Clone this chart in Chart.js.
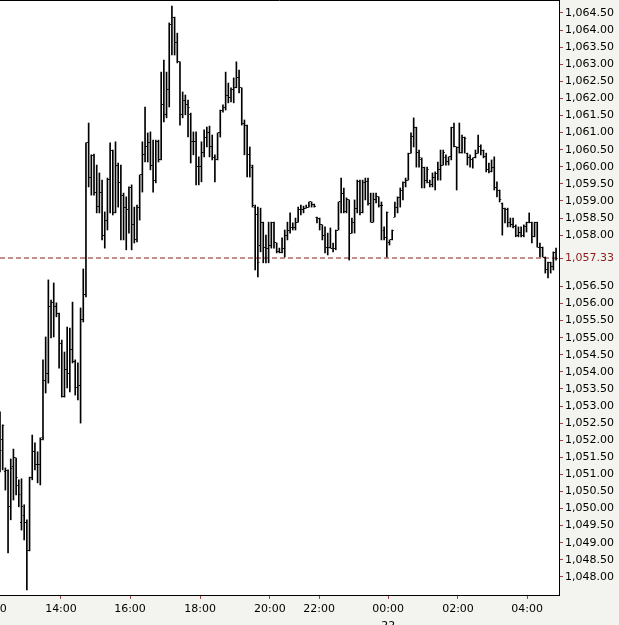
<!DOCTYPE html>
<html>
<head>
<meta charset="utf-8">
<script src="https://cdn.jsdelivr.net/npm/chart.js@4.4.1/dist/chart.umd.min.js"></script>
<style>
  html,body{margin:0;padding:0;background:#f3f3ef;overflow:hidden}
  #wrap{width:619px;height:625px;position:relative}
</style>
</head>
<body>
<div id="wrap"><canvas id="chart"></canvas></div>
<script>
/* =========================
   Dados (barras OHLC, em ordem)
   ========================= */
const opens = [
  1052.30,1052.01,1051.07,1051.10,1050.05,1051.22,1051.48,1050.66,1049.58,1049.81,
  1049.58,1048.76,1050.90,1051.66,1051.28,1051.28,1052.07,1053.76,1053.94,1055.90,
  1056.02,1055.90,1055.72,1054.84,1053.29,1054.08,1053.94,1054.64,1054.29,1053.53,
  1053.59,1055.52,1056.25,1060.70,1059.70,1060.32,1059.26,1058.85,1059.26,1057.98,
  1058.44,1059.64,1060.49,1058.65,1060.05,1059.53,1059.17,1058.82,1058.74,1059.38,
  1058.30,1057.86,1058.82,1059.76,1060.35,1060.58,1060.70,1060.05,1059.61,1060.73,
  1060.20,1061.81,1061.52,1062.25,1064.15,1064.38,1063.65,1063.07,1061.52,1061.95,
  1061.81,1061.52,1060.73,1060.73,1060.02,1060.02,1060.43,1060.87,1060.99,1060.58,
  1060.26,1060.20,1060.99,1061.66,1061.72,1062.10,1062.04,1062.25,1062.33,1062.60,
  1062.31,1061.28,1061.22,1060.35,1059.99,1058.82,1058.59,1057.71,1058.38,1057.65,
  1057.62,1057.71,1058.38,1057.77,1057.51,1057.48,1057.62,1058.00,1058.15,1058.21,
  1058.21,1058.38,1058.74,1058.74,1058.79,1058.82,1058.97,1058.91,1058.53,1058.50,
  1058.30,1058.00,1057.65,1057.65,1057.62,1057.62,1058.15,1058.97,1059.23,1058.68,
  1059.03,1058.06,1058.38,1058.79,1059.56,1058.65,1059.53,1059.56,1058.94,1058.38,
  1059.03,1059.12,1058.88,1058.15,1057.92,1057.77,1057.86,1058.53,1058.82,1059.09,
  1059.32,1059.53,1059.61,1060.40,1060.90,1061.14,1060.43,1060.20,1059.99,1059.61,
  1059.53,1059.47,1059.70,1059.79,1059.91,1060.05,1060.26,1060.14,1060.29,1061.14,
  1060.58,1060.55,1060.43,1060.87,1060.40,1060.26,1060.20,1060.26,1060.40,1060.58,
  1060.49,1060.29,1059.91,1059.85,1059.99,1059.38,1059.32,1058.94,1058.79,1058.74,
  1058.36,1058.30,1058.24,1058.00,1058.09,1058.00,1058.24,1058.36,1058.38,1057.95,
  1058.36,1057.65,1057.65,1057.36,1056.98,1057.19,1057.07,1057.48
];
const highs = [
  1052.83,1052.45,1051.19,1051.13,1051.45,1051.74,1051.48,1050.84,1050.87,1050.11,
  1049.67,1050.92,1052.15,1051.92,1051.66,1052.07,1054.35,1055.02,1056.69,1056.10,
  1056.60,1056.02,1055.72,1054.93,1054.58,1055.31,1055.28,1056.04,1054.35,1054.26,
  1055.87,1057.01,1060.70,1061.28,1060.35,1060.37,1060.05,1059.82,1059.61,1058.68,
  1059.67,1060.70,1060.49,1060.73,1060.11,1060.05,1059.23,1059.12,1059.41,1059.47,
  1058.82,1058.88,1059.76,1060.73,1061.75,1060.99,1061.02,1060.78,1060.78,1060.78,
  1062.77,1063.12,1062.77,1064.21,1064.70,1064.38,1063.91,1063.07,1062.19,1062.10,
  1061.95,1061.57,1061.02,1061.02,1060.29,1060.73,1061.08,1061.16,1061.19,1060.93,
  1060.35,1060.99,1061.66,1061.81,1062.77,1062.45,1062.31,1062.60,1063.07,1062.83,
  1062.31,1061.37,1061.22,1060.58,1060.05,1058.88,1058.82,1058.79,1058.38,1058.00,
  1058.38,1058.38,1058.38,1057.77,1057.62,1057.92,1058.15,1058.38,1058.65,1058.36,
  1058.50,1058.82,1058.88,1058.85,1058.88,1058.97,1058.97,1058.91,1058.53,1058.50,
  1058.30,1058.24,1058.06,1058.21,1057.77,1058.15,1058.97,1059.67,1059.38,1059.09,
  1059.03,1058.50,1059.03,1059.61,1059.61,1059.61,1059.67,1059.67,1059.23,1059.23,
  1059.23,1059.12,1058.97,1058.24,1058.68,1057.86,1058.15,1058.97,1059.12,1059.38,
  1059.56,1059.67,1060.40,1060.99,1061.43,1061.16,1060.49,1060.26,1059.99,1059.99,
  1059.61,1059.82,1059.85,1060.14,1060.49,1060.49,1060.35,1060.29,1061.16,1061.28,
  1060.58,1061.28,1060.93,1060.87,1060.40,1060.35,1060.26,1060.49,1060.93,1060.64,
  1060.49,1060.40,1060.11,1060.20,1060.29,1059.56,1059.32,1058.94,1058.79,1058.79,
  1058.50,1058.50,1058.30,1058.24,1058.24,1058.30,1058.38,1058.65,1058.38,1058.38,
  1058.38,1057.77,1057.65,1057.36,1057.21,1057.21,1057.51,1057.62
];
const lows = [
  1051.07,1051.13,1050.54,1048.70,1049.67,1050.25,1050.40,1050.05,1049.37,1049.08,
  1047.62,1048.76,1050.84,1051.13,1050.75,1050.69,1052.01,1053.38,1053.67,1054.99,
  1055.02,1055.61,1054.11,1053.26,1053.26,1053.53,1053.41,1054.26,1053.32,1053.18,
  1052.50,1055.46,1056.19,1059.41,1059.17,1059.17,1058.65,1058.65,1057.86,1057.62,
  1058.15,1058.65,1058.59,1058.65,1058.82,1057.86,1057.86,1057.57,1058.06,1057.57,
  1057.77,1057.80,1058.44,1059.26,1060.14,1060.14,1059.91,1059.26,1059.53,1060.14,
  1060.20,1061.31,1061.43,1061.75,1063.27,1063.27,1063.04,1061.22,1061.43,1061.52,
  1060.87,1060.11,1060.35,1059.47,1059.47,1059.56,1060.29,1060.58,1060.29,1060.20,
  1059.56,1060.20,1060.87,1061.60,1061.66,1061.87,1061.90,1061.87,1062.31,1062.16,
  1061.22,1060.35,1059.70,1059.70,1058.82,1056.98,1056.78,1057.51,1057.19,1057.19,
  1057.19,1057.62,1057.62,1057.48,1057.48,1057.48,1057.36,1057.86,1058.06,1058.15,
  1058.15,1058.38,1058.59,1058.65,1058.79,1058.82,1058.82,1058.82,1058.36,1058.15,
  1057.86,1057.48,1057.42,1057.62,1057.51,1057.57,1058.15,1058.65,1058.65,1058.65,
  1057.27,1058.06,1058.06,1058.65,1058.59,1058.65,1059.03,1058.88,1058.38,1058.38,
  1058.94,1058.82,1057.86,1057.86,1057.36,1057.71,1057.86,1058.53,1058.65,1058.82,
  1059.03,1059.41,1059.61,1060.40,1060.58,1059.99,1059.99,1059.38,1059.38,1059.53,
  1059.41,1059.41,1059.32,1059.61,1059.61,1060.05,1060.05,1060.05,1060.20,1060.58,
  1059.32,1060.40,1060.40,1060.40,1060.05,1059.99,1059.96,1060.26,1060.40,1060.35,
  1060.26,1059.85,1059.82,1059.85,1059.32,1059.12,1058.97,1058.00,1058.36,1058.24,
  1058.24,1058.21,1057.95,1057.95,1057.95,1057.95,1058.09,1058.36,1057.77,1057.95,
  1057.65,1057.36,1057.36,1056.89,1056.75,1056.89,1056.98,1057.27
];
const closes = [
  1051.71,1052.42,1051.10,1050.05,1051.16,1051.48,1050.90,1050.40,1050.05,1049.58,
  1048.76,1050.90,1051.66,1051.28,1051.28,1052.01,1053.76,1053.94,1055.90,1056.02,
  1055.90,1055.72,1054.84,1053.29,1054.08,1053.94,1054.64,1054.29,1053.53,1053.59,
  1055.52,1056.25,1060.70,1059.70,1060.32,1059.26,1058.85,1059.26,1057.98,1058.44,
  1059.64,1060.49,1058.65,1060.05,1059.53,1059.17,1058.82,1058.74,1059.38,1058.30,
  1057.86,1058.82,1059.76,1060.35,1060.58,1060.70,1060.05,1059.61,1060.73,1060.20,
  1061.81,1061.52,1062.25,1064.15,1064.38,1063.65,1063.07,1061.52,1061.95,1061.81,
  1061.72,1060.73,1060.73,1060.02,1060.02,1060.43,1060.87,1060.99,1060.58,1060.26,
  1060.20,1060.99,1061.66,1061.72,1062.10,1062.04,1062.25,1062.33,1062.60,1062.31,
  1061.28,1061.22,1060.35,1060.05,1058.88,1058.59,1057.21,1058.38,1057.65,1057.62,
  1057.71,1058.38,1057.77,1057.51,1057.48,1057.62,1058.00,1058.15,1058.21,1058.21,
  1058.38,1058.74,1058.74,1058.79,1058.82,1058.97,1058.91,1058.85,1058.50,1058.30,
  1058.00,1057.65,1057.65,1057.62,1057.62,1058.15,1058.97,1059.23,1058.68,1059.03,
  1058.06,1058.38,1058.79,1059.56,1058.65,1059.53,1059.56,1058.94,1058.38,1059.03,
  1059.12,1058.88,1058.88,1057.92,1058.65,1057.86,1058.15,1058.82,1059.09,1059.32,
  1059.53,1059.61,1060.40,1060.90,1061.14,1060.43,1060.26,1059.99,1059.61,1059.91,
  1059.47,1059.70,1059.79,1059.91,1060.05,1060.43,1060.14,1060.29,1061.14,1060.58,
  1060.55,1060.43,1060.87,1060.84,1060.26,1060.20,1060.26,1060.40,1060.58,1060.49,
  1060.29,1059.91,1059.85,1059.99,1059.38,1059.32,1059.03,1058.79,1058.74,1058.36,
  1058.30,1058.24,1058.00,1058.09,1058.00,1058.24,1058.36,1058.38,1057.95,1058.36,
  1057.65,1057.65,1057.36,1056.98,1057.19,1057.07,1057.48,1057.33
];

const lastPrice = 1057.33;

// eixo de tempo: rótulo de hora e posição (em barras) onde cai
const hourLabels = ['12:00','14:00','16:00','18:00','20:00','22:00','00:00','02:00','04:00'];
const hourAt     = [-3.35, 22.7, 48.4, 74.5, 100.5, 118.8, 144.5, 170.5, 196.2];
const dateLabel  = '22';   // data abaixo de 00:00
const xMax = 208.1;

// eixo de preço (1,057.00 e 1,057.50 ficam escondidos pelo último preço)
const yTicks = [
  1048.0,1048.5,1049.0,1049.5,1050.0,1050.5,1051.0,1051.5,1052.0,1052.5,
  1053.0,1053.5,1054.0,1054.5,1055.0,1055.5,1056.0,1056.5,1057.33,
  1058.0,1058.5,1059.0,1059.5,1060.0,1060.5,1061.0,1061.5,1062.0,1062.5,
  1063.0,1063.5,1064.0,1064.5
];
const yMin = 1047.47, yMax = 1064.88;

/* =========================
   Utils
   ========================= */
const fmtPrice = new Intl.NumberFormat('en-US',{minimumFractionDigits:2,maximumFractionDigits:2});
const RED = '#8b1c1c';

function tickImg(side){ // open = esquerda, close = direita
  const c=document.createElement('canvas'); c.width=5; c.height=1;
  const g=c.getContext('2d'); g.fillStyle='#000';
  g.fillRect(side==='open'?1:3,0,1,1);
  return c;
}

const bgPlugin = {
  id:'bg',
  beforeDraw(chart){
    const {ctx, chartArea:a, width, height} = chart;
    ctx.save();
    ctx.fillStyle='#f3f3ef'; ctx.fillRect(0,0,width,height);
    ctx.fillStyle='#ffffff'; ctx.fillRect(a.left,a.top,a.right-a.left,a.bottom-a.top);
    ctx.restore();
  },
  afterDraw(chart){
    const {ctx, chartArea:a} = chart;
    ctx.save();
    ctx.strokeStyle='#000'; ctx.lineWidth=1;
    ctx.beginPath(); ctx.moveTo(a.left,a.top+0.5); ctx.lineTo(a.right,a.top+0.5); ctx.stroke();
    ctx.restore();
  }
};

/* =========================
   Chart
   ========================= */
Chart.defaults.font.family = '"DejaVu Sans", Verdana, sans-serif';
Chart.defaults.font.size = 11;

const fontTicks = {family:'"DejaVu Sans", Verdana, sans-serif', size:11, lineHeight:1.5};

new Chart(document.getElementById('chart'),{
  type:'bar',
  data:{
    datasets:[
      {
        type:'bar', label:'range',
        data: highs.map((h,i)=>({x:i, y:[lows[i],h]})),
        backgroundColor:'#000', borderWidth:0, barThickness:1,
        order:1
      },
      {
        type:'scatter', label:'open',
        data: opens.map((o,i)=>({x:i, y:o})),
        pointStyle: tickImg('open'), pointRadius:1, hoverRadius:1, order:0
      },
      {
        type:'scatter', label:'close',
        data: closes.map((c,i)=>({x:i, y:c})),
        pointStyle: tickImg('close'), pointRadius:1, hoverRadius:1, order:0
      },
      {
        type:'line', label:'last',
        data:[{x:0,y:lastPrice},{x:xMax,y:lastPrice}],
        borderColor:RED, borderWidth:1, borderDash:[5,3],
        pointRadius:0, hoverRadius:0, order:3
      }
    ]
  },
  options:{
    responsive:true,
    maintainAspectRatio:false,
    animation:false,
    devicePixelRatio:1,
    layout:{padding:0, autoPadding:false},
    plugins:{ legend:{display:false}, tooltip:{enabled:false} },
    events:[],
    scales:{
      x:{
        type:'linear', position:'bottom', min:0, max:xMax, offset:false,
        afterBuildTicks:(s)=>{ s.ticks = hourAt.map(v=>({value:v})); },
        afterFit:(s)=>{ s.height=30; s.paddingLeft=0; s.paddingRight=0; },
        ticks:{
          autoSkip:false, maxRotation:0, minRotation:0, padding:2,
          color:'#000', font:fontTicks,
          callback:(v,i)=> hourLabels[i]==='00:00' ? [hourLabels[i], dateLabel] : hourLabels[i]
        },
        grid:{ drawOnChartArea:false, offset:false, tickLength:4, tickColor:'#9a4444' },
        border:{ color:'#000', width:1 }
      },
      y:{
        type:'linear', position:'right', min:yMin, max:yMax,
        afterBuildTicks:(s)=>{ s.ticks = yTicks.map(v=>({value:v})); },
        afterFit:(s)=>{ s.width=60; s.paddingTop=0; s.paddingBottom=0; },
        ticks:{
          autoSkip:false, padding:2, font:{family:'"DejaVu Sans", Verdana, sans-serif', size:11},
          color:(c)=> (c.tick && c.tick.value===lastPrice) ? RED : '#000',
          callback:(v)=> fmtPrice.format(v)
        },
        grid:{ drawOnChartArea:false, offset:false, tickLength:4, tickColor:'#9a4444' },
        border:{ color:'#000', width:1 }
      }
    }
  },
  plugins:[bgPlugin]
});
</script>
</body>
</html>
